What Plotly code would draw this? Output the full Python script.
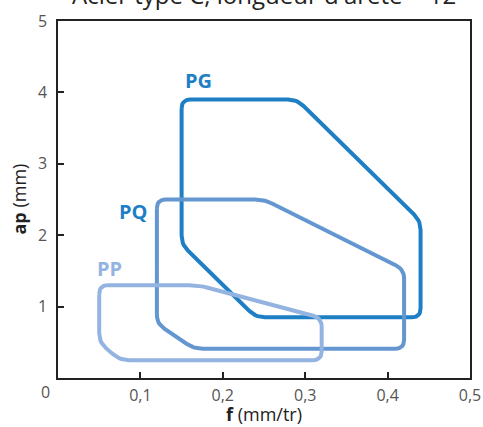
import plotly.graph_objects as go
import numpy as np

# Data: polygon vertices (f in mm/tr, ap in mm)
pg_f = [0.15, 0.29, 0.44, 0.44, 0.24, 0.15]
pg_ap = [3.9, 3.9, 2.2, 0.85, 0.85, 1.87]
pq_f = [0.12, 0.25, 0.42, 0.42, 0.165, 0.12]
pq_ap = [2.5, 2.5, 1.52, 0.41, 0.41, 0.76]
pp_f = [0.05, 0.17, 0.32, 0.32, 0.075, 0.05]
pp_ap = [1.3, 1.3, 0.84, 0.25, 0.25, 0.5]

labels = ["PG", "PQ", "PP"]
label_f = [0.171, 0.091, 0.063]
label_ap = [4.17, 2.33, 1.53]

x_ticks = [0.1, 0.2, 0.3, 0.4, 0.5]
x_ticktext = ["0,1", "0,2", "0,3", "0,4", "0,5"]
y_ticks = [1, 2, 3, 4, 5]
y_ticktext = ["1", "2", "3", "4", "5"]

W, H = 483, 427
ML, MR, MT, MB = 58, 13, 21, 49
PW, PH = W - ML - MR, H - MT - MB
SX = PW / 0.5
SY = PH / 5.0


def rounded(xs, ys, r=9, n=8):
    px = np.array(xs) * SX
    py = np.array(ys) * SY
    k = len(px)
    out_x, out_y = [], []
    for i in range(k):
        p0 = np.array([px[i - 1], py[i - 1]])
        p1 = np.array([px[i], py[i]])
        p2 = np.array([px[(i + 1) % k], py[(i + 1) % k]])
        d1 = p0 - p1
        d2 = p2 - p1
        l1, l2 = np.linalg.norm(d1), np.linalg.norm(d2)
        rr = min(r, l1 / 2, l2 / 2)
        a = p1 + d1 / l1 * rr
        b = p1 + d2 / l2 * rr
        for t in np.linspace(0, 1, n):
            q = (1 - t) ** 2 * a + 2 * (1 - t) * t * p1 + t ** 2 * b
            out_x.append(q[0] / SX)
            out_y.append(q[1] / SY)
    out_x.append(out_x[0])
    out_y.append(out_y[0])
    return out_x, out_y


colors = ["#1e7fc4", "#6497d0", "#93b4e0"]
label_colors = ["#1e7fc4", "#1e7fc4", "#93b4e0"]

fig = go.Figure()
for (xs, ys), c in zip([(pg_f, pg_ap), (pq_f, pq_ap), (pp_f, pp_ap)], colors):
    rx, ry = rounded(xs, ys)
    fig.add_trace(go.Scatter(x=rx, y=ry, mode="lines",
                             line=dict(color=c, width=4), hoverinfo="skip",
                             showlegend=False))

for t, xf, ya, c in zip(labels, label_f, label_ap, label_colors):
    fig.add_annotation(x=xf, y=ya, text="<b>%s</b>" % t, showarrow=False,
                       font=dict(size=20, color=c, family="Open Sans"))

fig.add_annotation(xref="paper", yref="paper", x=0, y=0, xshift=-13, yshift=-14,
                   xanchor="center", yanchor="middle",
                   text="0", showarrow=False,
                   font=dict(size=16, color="#555555", family="Open Sans"))

# axis titles
fig.add_annotation(xref="paper", yref="paper", x=0.5, y=0, yshift=-36,
                   xanchor="center", yanchor="middle", text="<b>f</b> (mm/tr)",
                   showarrow=False,
                   font=dict(size=18, color="#222222", family="Open Sans"))
fig.add_annotation(xref="paper", yref="paper", x=0, y=0.5, xshift=-40,
                   xanchor="center", yanchor="middle", textangle=-90,
                   text="<b>ap</b> (mm)", showarrow=False,
                   font=dict(size=18, color="#222222", family="Open Sans"))

# chart title
fig.add_annotation(xref="paper", yref="paper", x=0.5, y=1, yshift=8,
                   xanchor="center", yanchor="bottom",
                   text="Acier type C, longueur d'arête = 12",
                   showarrow=False,
                   font=dict(size=24, color="#222222", family="Open Sans"))

fig.update_layout(
    width=W, height=H,
    margin=dict(l=ML, r=MR, t=MT, b=MB, autoexpand=False),
    paper_bgcolor="white", plot_bgcolor="white",
    font=dict(family="Open Sans", color="#555555"),
    xaxis=dict(range=[0, 0.5], tickvals=x_ticks, ticktext=x_ticktext,
               ticks="inside", ticklen=6, tickcolor="#222222", tickwidth=1.5,
               showline=True, linecolor="#222222", linewidth=1.5, mirror=True,
               showgrid=False, zeroline=False, automargin=False,
               ticklabelstandoff=2, ticklabeloverflow="allow",
               tickfont=dict(size=16, color="#555555")),
    yaxis=dict(range=[0, 5], tickvals=y_ticks, ticktext=y_ticktext,
               ticks="inside", ticklen=6, tickcolor="#222222", tickwidth=1.5,
               showline=True, linecolor="#222222", linewidth=1.5, mirror=True,
               showgrid=False, zeroline=False, automargin=False,
               ticklabelstandoff=6,
               tickfont=dict(size=16, color="#555555")),
)

fig.write_html("out.html", config={"displayModeBar": False},
               post_script="document.body.style.margin='0';"
                           "document.body.style.overflow='hidden';")
